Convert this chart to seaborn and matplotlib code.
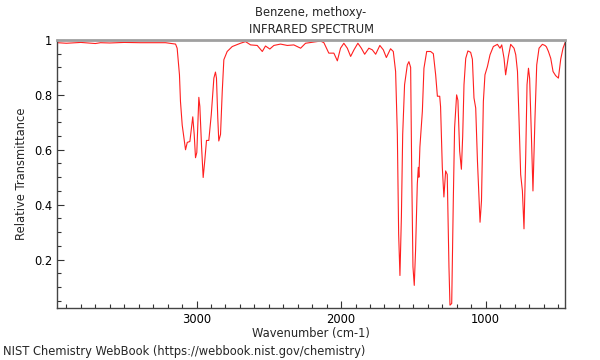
import numpy as np
import pandas as pd
import matplotlib
matplotlib.use("Agg")
import matplotlib.pyplot as plt
import seaborn as sns
from matplotlib.ticker import MultipleLocator

# spectrum (wavenumber in cm-1, relative transmittance)
wavenumber = [
    3962, 3900, 3800, 3700, 3664, 3600, 3500, 3388, 3300, 3214, 3145, 3134,
    3118, 3111, 3099, 3076, 3064, 3046, 3026, 3016, 3007, 2998, 2984, 2977,
    2965, 2954, 2943, 2931, 2915, 2898, 2880, 2869, 2862, 2853, 2846, 2834,
    2822, 2811, 2788, 2753, 2696, 2661, 2626, 2580, 2545, 2523, 2493, 2465,
    2419, 2372, 2327, 2280, 2246, 2142, 2119, 2085, 2050, 2026, 2004, 1981,
    1957, 1934, 1911, 1884, 1860, 1837, 1808, 1784, 1761, 1732, 1708, 1687,
    1658, 1639, 1623, 1611, 1602, 1593, 1583, 1574, 1561, 1542, 1531, 1519,
    1512, 1503, 1494, 1485, 1473, 1466, 1462, 1455, 1438, 1427, 1408, 1381,
    1362, 1346, 1334, 1318, 1312, 1300, 1289, 1277, 1266, 1254, 1247, 1235,
    1224, 1215, 1201, 1192, 1180, 1168, 1159, 1150, 1138, 1123, 1104, 1092,
    1081, 1069, 1057, 1039, 1029, 1016, 1005, 988, 970, 947, 919, 901,
    889, 873, 862, 843, 827, 804, 792, 780, 769, 758, 746, 735,
    723, 714, 704, 696, 684, 673, 659, 647, 631, 608, 590, 580,
    566, 550, 534, 516, 497, 481, 465, 451,
]
transmittance = [
    0.990, 0.988, 0.991, 0.987, 0.990, 0.989, 0.991, 0.990, 0.990, 0.990, 0.985, 0.970,
    0.873, 0.776, 0.690, 0.600, 0.627, 0.630, 0.720, 0.656, 0.571, 0.590, 0.791, 0.758,
    0.610, 0.499, 0.560, 0.634, 0.634, 0.728, 0.861, 0.883, 0.861, 0.716, 0.632, 0.656,
    0.813, 0.928, 0.958, 0.976, 0.988, 0.994, 0.982, 0.980, 0.958, 0.978, 0.967, 0.980,
    0.985, 0.980, 0.982, 0.970, 0.988, 0.996, 0.990, 0.952, 0.952, 0.924, 0.970, 0.988,
    0.970, 0.940, 0.964, 0.988, 0.970, 0.948, 0.970, 0.964, 0.948, 0.980, 0.964, 0.936,
    0.968, 0.958, 0.885, 0.656, 0.293, 0.142, 0.355, 0.656, 0.837, 0.909, 0.921, 0.900,
    0.536, 0.174, 0.106, 0.233, 0.475, 0.536, 0.500, 0.610, 0.740, 0.897, 0.958, 0.958,
    0.950, 0.873, 0.795, 0.795, 0.757, 0.536, 0.428, 0.523, 0.510, 0.174, 0.034, 0.040,
    0.414, 0.680, 0.800, 0.780, 0.595, 0.529, 0.650, 0.837, 0.933, 0.960, 0.955, 0.930,
    0.789, 0.752, 0.560, 0.336, 0.414, 0.776, 0.873, 0.903, 0.946, 0.976, 0.984, 0.970,
    0.982, 0.933, 0.873, 0.940, 0.984, 0.970, 0.946, 0.885, 0.704, 0.510, 0.450, 0.312,
    0.580, 0.837, 0.897, 0.860, 0.656, 0.450, 0.716, 0.909, 0.970, 0.984, 0.980, 0.975,
    0.958, 0.933, 0.885, 0.870, 0.861, 0.930, 0.970, 0.990,
]

df = pd.DataFrame({"Wavenumber": wavenumber, "Transmittance": transmittance})

sns.set_style("ticks")
plt.rcParams["font.family"] = ["DejaVu Sans"]

fig = plt.figure(figsize=(6, 3.6), dpi=100)
ax = fig.add_axes([0.095, 0.144, 0.847, 0.745])

sns.lineplot(data=df, x="Wavenumber", y="Transmittance", sort=False,
             estimator=None, color="#ff2020", linewidth=0.8, ax=ax)

ax.set_xlim(3965, 450)
ax.set_ylim(0.023, 1.0)

ax.xaxis.set_major_locator(MultipleLocator(1000))
ax.xaxis.set_minor_locator(MultipleLocator(100))
ax.yaxis.set_major_locator(MultipleLocator(0.2))
ax.yaxis.set_minor_locator(MultipleLocator(0.05))
ax.yaxis.set_major_formatter(plt.FuncFormatter(lambda v, p: f"{v:g}"))

ax.tick_params(which="both", direction="in", color="#333333", labelcolor="black",
               labelsize=8.3, bottom=True, left=True, top=False, right=False)
ax.tick_params(which="major", length=5, width=0.8)
ax.tick_params(which="minor", length=3, width=0.8)

for side in ["left", "bottom", "right"]:
    ax.spines[side].set_color("#444444")
    ax.spines[side].set_linewidth(1)
ax.spines["top"].set_color("#a0a0a0")
ax.spines["top"].set_linewidth(2)

ax.set_xlabel("Wavenumber (cm-1)", fontsize=8.3, labelpad=1)
ax.set_ylabel("Relative Transmittance", fontsize=8.3)
ax.set_title("Benzene, methoxy-\nINFRARED SPECTRUM", fontsize=8.3, pad=5,
             linespacing=1.45)

fig.text(0.005, 0.005, "NIST Chemistry WebBook (https://webbook.nist.gov/chemistry)",
         fontsize=8.3, ha="left", va="bottom")

fig.savefig("out.png", dpi=100)
